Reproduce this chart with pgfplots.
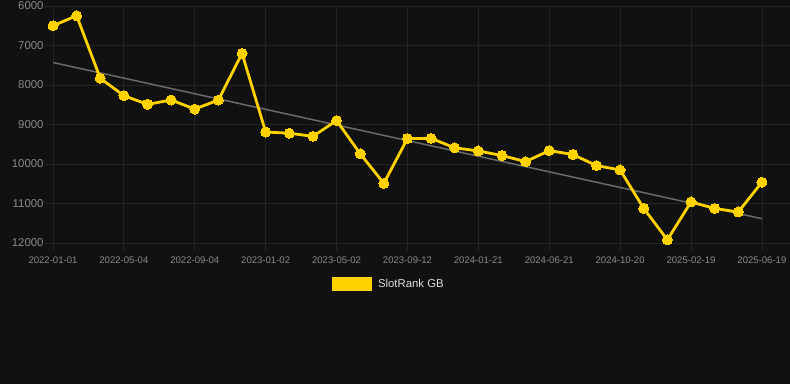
\documentclass[border=0pt]{standalone}
\usepackage{pgfplots}
\pgfplotsset{compat=1.18}
\usepackage{fontspec}
\setmainfont{Liberation Sans}
\definecolor{bg}{HTML}{111111}
\definecolor{gridc}{HTML}{252525}
\definecolor{tickc}{HTML}{8A8A8A}
\definecolor{gold}{HTML}{FFD200}
\definecolor{trend}{HTML}{6A6A6A}
\definecolor{legtext}{HTML}{DDDDDD}
\begin{document}
\begin{tikzpicture}[x=1bp,y=1bp]
\fill[bg] (0,0) rectangle (790,384);
\useasboundingbox (0,0) rectangle (790,384);
\begin{axis}[
  at={(53bp,141bp)}, anchor=south west,
  scale only axis, width=737bp, height=237bp,
  xmin=0, xmax=31.19,
  ymin=6000, ymax=12000, y dir=reverse,
  scaled y ticks=false,
  axis line style={draw=none},
  grid=major, major grid style={gridc, line width=0.8bp},
  tick style={gridc, line width=0.8bp},
  tick align=outside, major tick length=8bp,
  xtick pos=bottom, ytick pos=left,
  xtick={0,3,...,30},
  xticklabels={2022-01-01,2022-05-04,2022-09-04,2023-01-02,2023-05-02,2023-09-12,2024-01-21,2024-06-21,2024-10-20,2025-02-19,2025-06-19},
  ytick={6000,7000,...,12000},
  yticklabels={6000,7000,8000,9000,10000,11000,12000},
  yticklabel style={font=\fontsize{11.4}{12}\selectfont, text=tickc, xshift=2bp},
  xticklabel style={font=\fontsize{9.6}{11}\selectfont, text=tickc, yshift=-2bp},
  legend style={at={(0.3786,-0.173)}, anchor=west, draw=none, fill=none, inner sep=0pt,
    font=\fontsize{11.4}{12}\selectfont, text=legtext},
  legend cell align=left,
]
\addplot[trend, line width=1.5bp, forget plot] coordinates {(0,7430) (30,11385)};
\addplot[gold, line width=2.8bp, mark=*, mark size=5bp, mark options={fill=gold, draw=gold, line width=0pt},
  legend image code/.code={\fill[gold] (0bp,-5.5bp) rectangle (37bp,5.5bp); \path (41bp,0bp);}]
 coordinates {
(0,6500) (1,6245) (2,7830) (3,8270) (4,8490) (5,8380) (6,8610) (7,8380)
(8,7200) (9,9190) (10,9220) (11,9300) (12,8900) (13,9740) (14,10490)
(15,9355) (16,9350) (17,9590) (18,9670) (19,9785) (20,9940) (21,9660)
(22,9760) (23,10040) (24,10150) (25,11125) (26,11920) (27,10960)
(28,11125) (29,11215) (30,10460)
};
\addlegendentry{SlotRank GB}
\end{axis}
\end{tikzpicture}
\end{document}
